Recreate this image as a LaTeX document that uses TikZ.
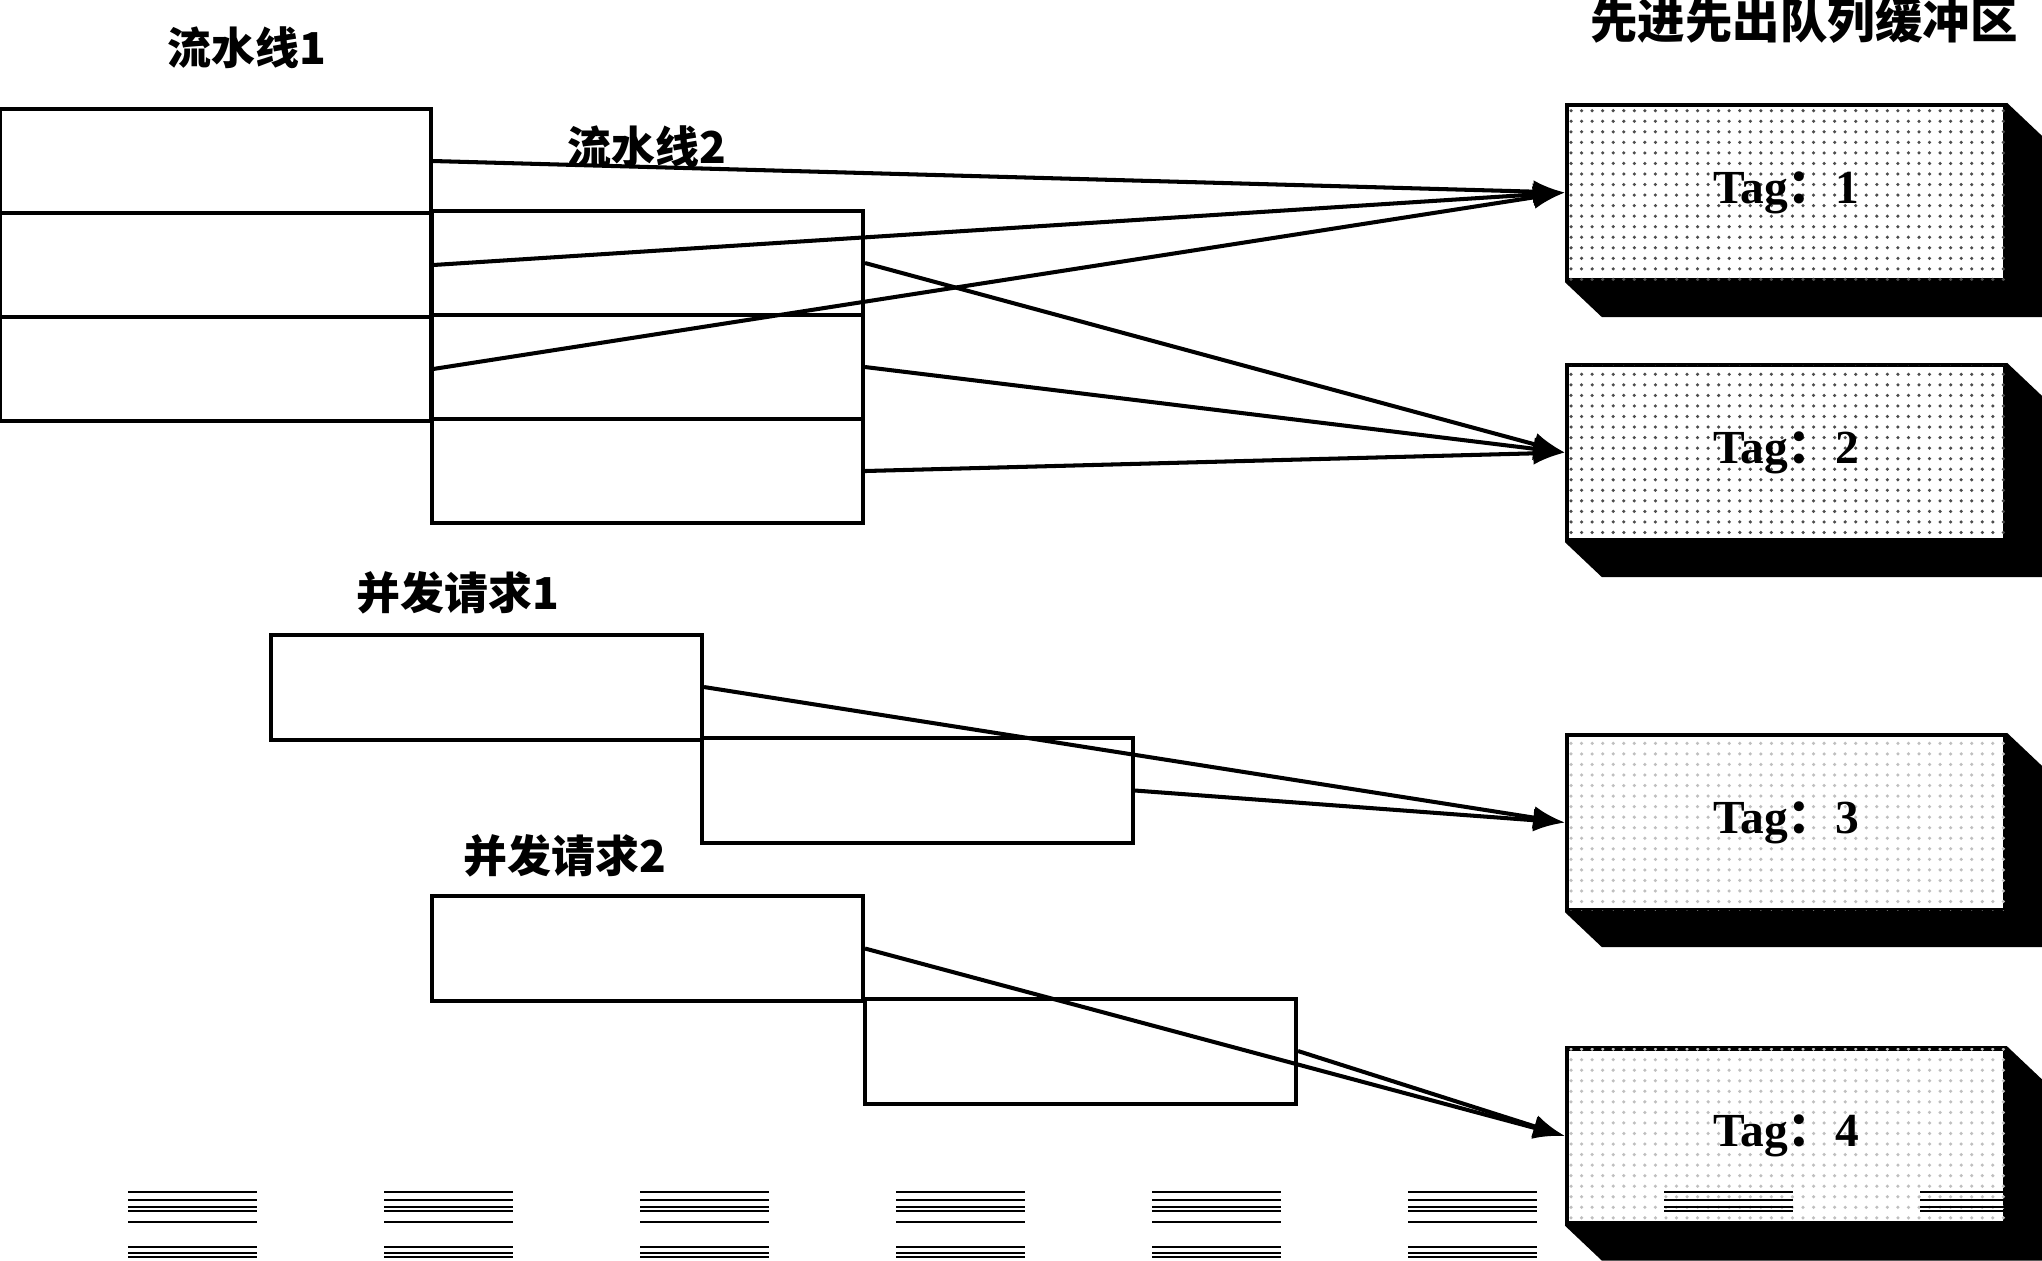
\documentclass[tikz,border=0pt]{standalone}
\usepackage{fontspec}
\usetikzlibrary{arrows.meta,patterns}
\newfontfamily\cjk{Noto Sans CJK SC}
\newfontfamily\tagfont{Liberation Serif}

\begin{document}
\begin{tikzpicture}[
        cell/.style={draw,line width=1.15pt,minimum width=4.31cm,minimum height=1.04cm,inner sep=0pt},
        fifo/.style={draw,line width=1.2pt,fill=white,minimum width=4.38cm,minimum height=1.75cm,inner sep=0pt,
            font=\tagfont\bfseries\fontsize{13.5}{15}\selectfont},
        lbl/.style={font=\cjk\bfseries\fontsize{12.5}{14}\selectfont},
        link/.style={line width=1.15pt,-{Latex[length=9pt,width=6.5pt]}},
        scan/.style={line width=0.5pt}
    ]
                \useasboundingbox (0,0) rectangle (20.42,-12.6);
                % pipelines
                \node[cell] (p1a) at (2.155,-1.61) {};
                \node[cell] (p1b) at (2.155,-2.65) {};
                \node[cell] (p1c) at (2.155,-3.69) {};
                \node[cell] (p2a) at (6.475,-2.63) {};
                \node[cell] (p2b) at (6.475,-3.67) {};
                \node[cell] (p2c) at (6.475,-4.71) {};
                % concurrent requests
                \node[cell,minimum height=1.05cm] (r1a) at (4.865,-6.87) {};
                \node[cell,minimum height=1.05cm] (r1b) at (9.175,-7.905) {};
                \node[cell,minimum height=1.05cm] (r2a) at (6.475,-9.485) {};
                \node[cell,minimum height=1.05cm] (r2b) at (10.805,-10.51) {};
                % fifo buffers
                \node[fifo,postaction={pattern=dots,pattern color=black!70}] (t1) at (17.86,-1.925) {Tag{\cjk ：}1};
                \node[fifo,postaction={pattern=dots,pattern color=black!70}] (t2) at (17.86,-4.525) {Tag{\cjk ：}2};
                \node[fifo,postaction={pattern=dots,pattern color=black!25}] (t3) at (17.86,-8.225) {Tag{\cjk ：}3};
                \node[fifo,postaction={pattern=dots,pattern color=black!25}] (t4) at (17.86,-11.36) {Tag{\cjk ：}4};
                \foreach \t in {t1,t2,t3,t4}
                    \fill (\t.south west) -- ([shift={(0.37,-0.35)}]\t.south west) -- ([shift={(0.37,-0.35)}]\t.south east)
                        -- ([shift={(0.37,-0.35)}]\t.north east) -- (\t.north east) -- (\t.south east) -- cycle;
                % labels
                \node[lbl] (l1) at (2.47,-0.48) {流水线1};
                \node[lbl] (l2) at (6.47,-1.47) {流水线2};
                \node[lbl,font=\cjk\bfseries\fontsize{13.5}{15}\selectfont] (l3) at (18.04,-0.21) {先进先出队列缓冲区};
                \node[lbl] (l4) at (4.58,-5.93) {并发请求1};
                \node[lbl] (l5) at (5.65,-8.56) {并发请求2};
                % links
                \draw[link] (p1a.east) -- (t1.west);
                \draw[link] (p1b.east) -- (t1.west);
                \draw[link] (p1c.east) -- (t1.west);
                \draw[link] (p2a.east) -- (t2.west);
                \draw[link] (p2b.east) -- (t2.west);
                \draw[link] (p2c.east) -- (t2.west);
                \draw[link] (r1a.east) -- (t3.west);
                \draw[link] (r1b.east) -- (t3.west);
                \draw[link] (r2a.east) -- (t4.west);
                \draw[link] (r2b.east) -- (t4.west);
                % scan stripes
                \foreach \x in {1.28,3.84,6.40,8.96,11.52,14.08,16.64,19.20}
                    \foreach \y in {11.92,12.00,12.07,12.11,12.22,12.47,12.53,12.57}
                        \draw[scan] (\x,-\y) -- ++(1.29,0);
            \end{tikzpicture}
\end{document}
